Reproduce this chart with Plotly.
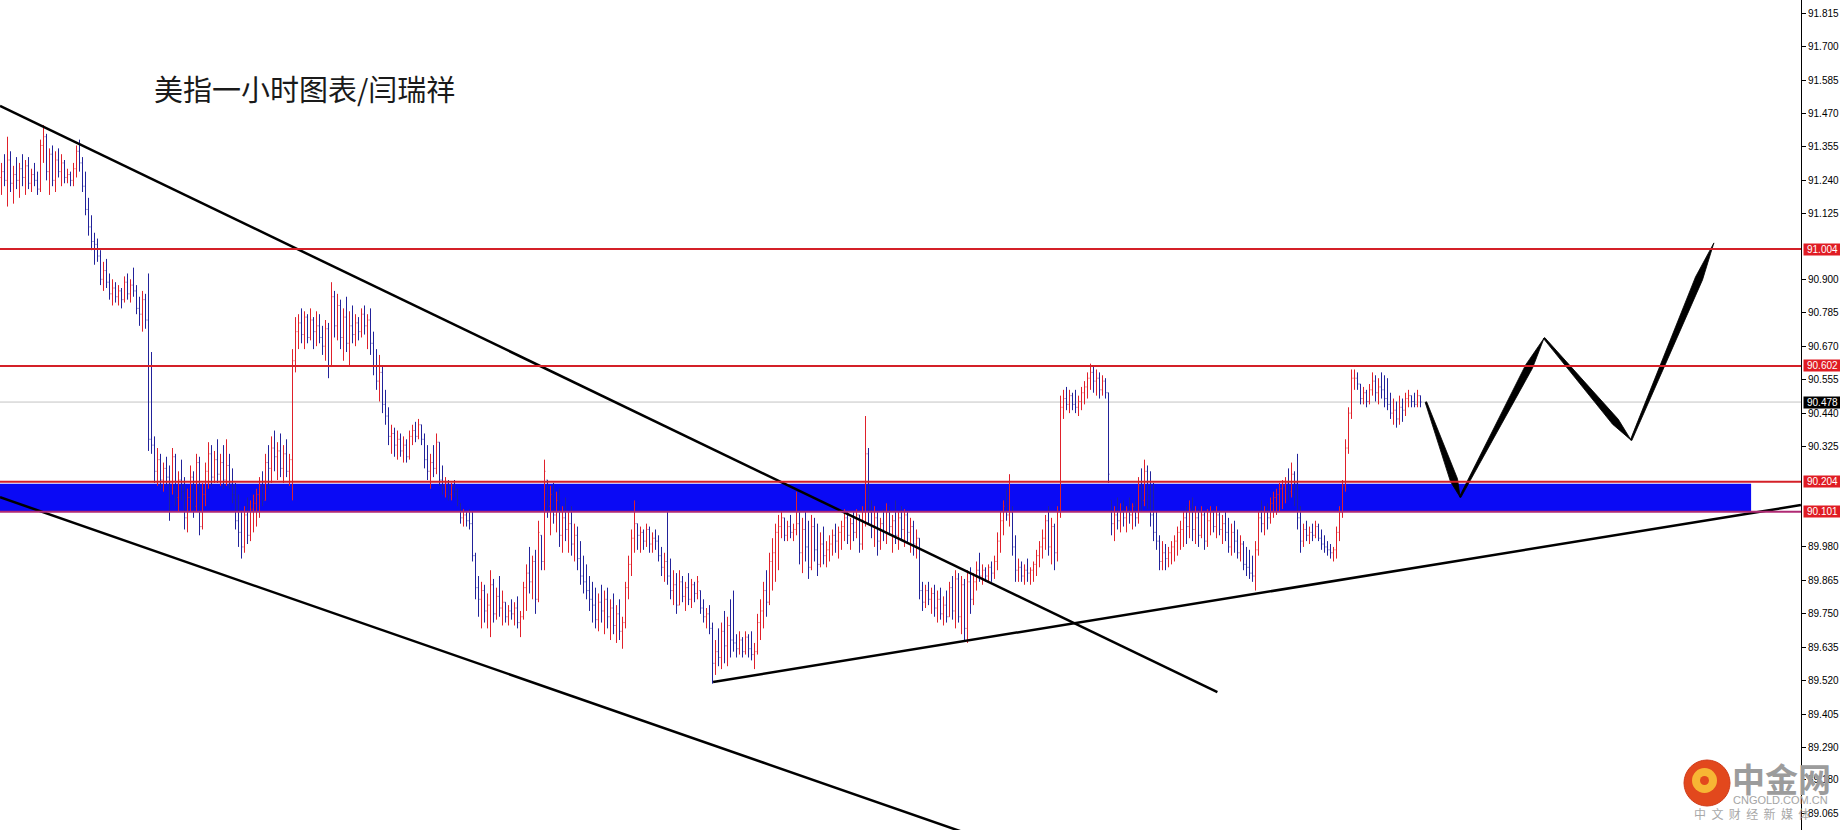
import plotly.graph_objects as go

# ---------------- data ----------------
highs = [
    91.30, 91.33, 91.39, 91.34, 91.29, 91.32, 91.30, 91.33, 91.31, 91.32,
    91.28, 91.30, 91.27, 91.38, 91.43, 91.40, 91.35, 91.36, 91.34, 91.35,
    91.33, 91.31, 91.28, 91.27, 91.30, 91.36, 91.38, 91.32, 91.27, 91.18,
    91.12, 91.06, 91.04, 91.00, 90.96, 90.97, 90.92, 90.90, 90.89, 90.88,
    90.87, 90.91, 90.92, 90.90, 90.94, 90.88, 90.84, 90.86, 90.85, 90.92,
    90.65, 90.36, 90.32, 90.30, 90.27, 90.29, 90.26, 90.32, 90.30, 90.24,
    90.28, 90.22, 90.18, 90.26, 90.24, 90.30, 90.29, 90.20, 90.27, 90.34,
    90.33, 90.31, 90.35, 90.30, 90.33, 90.35, 90.30, 90.25, 90.20, 90.16,
    90.10, 90.12, 90.15, 90.14, 90.16, 90.18, 90.22, 90.24, 90.30, 90.33,
    90.36, 90.38, 90.34, 90.37, 90.33, 90.35, 90.30, 90.66, 90.77, 90.78,
    90.80, 90.79, 90.78, 90.80, 90.77, 90.79, 90.78, 90.74, 90.76, 90.75,
    90.89, 90.86, 90.85, 90.83, 90.80, 90.84, 90.79, 90.81, 90.78, 90.77,
    90.80, 90.81, 90.78, 90.80, 90.72, 90.66, 90.64, 90.60, 90.52, 90.46,
    90.40, 90.39, 90.38, 90.37, 90.36, 90.35, 90.38, 90.40, 90.41, 90.42,
    90.40, 90.37, 90.33, 90.30, 90.33, 90.37, 90.34, 90.26, 90.22, 90.21,
    90.20, 90.21, 90.18, 90.13, 90.11, 90.10, 90.11, 90.10, 89.96, 89.88,
    89.86, 89.85, 89.82, 89.90, 89.87, 89.84, 89.88, 89.83, 89.79, 89.78,
    89.80, 89.79, 89.81, 89.76, 89.86, 89.92, 89.98, 89.95, 89.97, 90.07,
    90.02, 90.28, 90.21, 90.19, 90.20, 90.17, 90.18, 90.12, 90.15, 90.10,
    90.12, 90.06, 90.05, 90.00, 89.95, 89.92, 89.88, 89.86, 89.84, 89.82,
    89.85, 89.83, 89.84, 89.80, 89.82, 89.78, 89.80, 89.74, 89.86, 89.95,
    90.04, 90.14, 90.06, 90.05, 90.04, 90.06, 90.05, 90.03, 90.04, 90.02,
    89.98, 89.96, 90.10, 89.94, 89.90, 89.89, 89.90, 89.88, 89.86, 89.89,
    89.87, 89.86, 89.88, 89.83, 89.80, 89.77, 89.78, 89.72, 89.66, 89.70,
    89.72, 89.76, 89.74, 89.80, 89.83, 89.68, 89.69, 89.67, 89.69, 89.68,
    89.69, 89.65, 89.75, 89.80, 89.86, 89.90, 89.96, 90.01, 90.06, 90.09,
    90.10, 90.08, 90.07, 90.09, 90.06, 90.17, 90.10, 90.08, 90.10, 90.07,
    90.09, 90.08, 90.06, 90.03, 90.05, 90.00, 90.02, 90.04, 90.06, 90.05,
    90.07, 90.11, 90.10, 90.08, 90.10, 90.11, 90.09, 90.12, 90.43, 90.32,
    90.14, 90.12, 90.10, 90.08, 90.11, 90.13, 90.12, 90.09, 90.14, 90.10,
    90.12, 90.11, 90.10, 90.08, 90.07, 90.04, 90.01, 89.86, 89.85, 89.86,
    89.84, 89.85, 89.83, 89.84, 89.81, 89.83, 89.86, 89.88, 89.90, 89.89,
    89.88, 89.87, 89.90, 89.91, 89.89, 89.93, 89.96, 89.92, 89.91, 89.92,
    89.93, 89.95, 90.03, 90.10, 90.14, 90.18, 90.23, 90.12, 90.02, 89.94,
    89.93, 89.92, 89.94, 89.91, 89.93, 89.97, 90.00, 90.04, 90.09, 90.12,
    90.08, 90.06, 90.12, 90.50, 90.52, 90.53, 90.52, 90.51, 90.52, 90.50,
    90.53, 90.55, 90.58, 90.61, 90.60, 90.59, 90.58, 90.57, 90.56, 90.51,
    90.14, 90.12, 90.15, 90.13, 90.14, 90.12, 90.15, 90.13, 90.14, 90.22,
    90.25, 90.28, 90.26, 90.24, 90.20, 90.10, 90.02, 90.00, 89.99, 89.98,
    90.00, 90.02, 90.05, 90.07, 90.10, 90.12, 90.14, 90.15, 90.12, 90.11,
    90.12, 90.10, 90.11, 90.12, 90.11, 90.12, 90.10, 90.09, 90.10, 90.08,
    90.06, 90.07, 90.04, 90.02, 90.00, 89.98, 89.97, 89.95, 90.00, 90.10,
    90.14, 90.12, 90.13, 90.15, 90.17, 90.18, 90.20, 90.21, 90.22, 90.25,
    90.27, 90.24, 90.30, 90.12, 90.06, 90.07, 90.05, 90.06, 90.07, 90.06,
    90.04, 90.02, 90.00, 89.99, 89.98, 90.05, 90.12, 90.21, 90.35, 90.46,
    90.59, 90.59, 90.58, 90.54, 90.53, 90.52, 90.54, 90.58, 90.57, 90.56,
    90.58, 90.57, 90.56, 90.51, 90.49, 90.48, 90.50, 90.49, 90.51, 90.52,
    90.50, 90.51, 90.52, 90.50,
]
lows = [
    91.19, 91.22, 91.15, 91.20, 91.16, 91.21, 91.18, 91.22, 91.19, 91.21,
    91.20, 91.22, 91.19, 91.20, 91.30, 91.24, 91.19, 91.22, 91.20, 91.25,
    91.22, 91.23, 91.23, 91.22, 91.22, 91.25, 91.27, 91.20, 91.12, 91.05,
    91.00, 90.95, 90.96, 90.88, 90.86, 90.87, 90.83, 90.81, 90.82, 90.81,
    90.80, 90.82, 90.83, 90.82, 90.84, 90.78, 90.74, 90.72, 90.73, 90.31,
    90.30, 90.20, 90.19, 90.18, 90.17, 90.19, 90.07, 90.16, 90.12, 90.10,
    90.14, 90.04, 90.03, 90.10, 90.08, 90.10, 90.02, 90.04, 90.12, 90.18,
    90.19, 90.20, 90.20, 90.19, 90.18, 90.19, 90.18, 90.13, 90.04, 89.98,
    89.94, 89.96, 89.99, 90.00, 90.03, 90.05, 90.08, 90.12, 90.14, 90.18,
    90.20, 90.24, 90.21, 90.22, 90.20, 90.22, 90.19, 90.14, 90.58, 90.66,
    90.68, 90.66, 90.68, 90.69, 90.66, 90.67, 90.68, 90.64, 90.62, 90.56,
    90.60, 90.70, 90.69, 90.66, 90.62, 90.65, 90.60, 90.68, 90.67, 90.69,
    90.70, 90.71, 90.66, 90.64, 90.57, 90.52, 90.48, 90.44, 90.40, 90.33,
    90.30, 90.29, 90.28, 90.29, 90.27, 90.27, 90.28, 90.33, 90.34, 90.35,
    90.33, 90.25, 90.21, 90.18, 90.22, 90.23, 90.19, 90.16, 90.15, 90.14,
    90.14, 90.15, 90.12, 90.06, 90.05, 90.05, 90.04, 89.93, 89.80, 89.74,
    89.70, 89.72, 89.70, 89.67, 89.72, 89.73, 89.74, 89.71, 89.72, 89.71,
    89.73, 89.71, 89.70, 89.67, 89.73, 89.76, 89.82, 89.80, 89.75, 89.79,
    89.90, 89.90, 90.08, 90.02, 90.06, 90.03, 89.98, 89.96, 90.00, 89.96,
    89.95, 89.93, 89.90, 89.85, 89.82, 89.80, 89.76, 89.72, 89.70, 89.69,
    89.72, 89.68, 89.70, 89.66, 89.68, 89.65, 89.66, 89.63, 89.70, 89.80,
    89.88, 89.96, 89.97, 89.96, 89.97, 89.98, 89.96, 89.96, 89.97, 89.93,
    89.88, 89.86, 89.85, 89.80, 89.78, 89.75, 89.78, 89.79, 89.76, 89.78,
    89.77, 89.79, 89.80, 89.75, 89.72, 89.70, 89.68, 89.51, 89.54, 89.57,
    89.56, 89.58, 89.57, 89.60, 89.62, 89.60, 89.61, 89.60, 89.61, 89.60,
    89.59, 89.56, 89.61, 89.66, 89.70, 89.74, 89.78, 89.83, 89.86, 89.90,
    90.01, 90.00, 90.00, 90.01, 90.00, 90.02, 89.92, 89.89, 89.93, 89.87,
    89.90, 89.93, 89.88, 89.91, 89.92, 89.91, 89.93, 89.95, 89.96, 89.94,
    89.97, 90.00, 89.99, 89.97, 90.00, 90.01, 89.96, 89.97, 90.05, 90.06,
    90.01, 89.98, 89.95, 89.97, 90.00, 89.99, 90.02, 89.96, 89.99, 89.97,
    90.00, 89.98, 89.99, 89.96, 89.95, 89.94, 89.80, 89.76, 89.77, 89.78,
    89.75, 89.74, 89.72, 89.73, 89.71, 89.72, 89.74, 89.73, 89.70, 89.72,
    89.68, 89.66, 89.65, 89.75, 89.78, 89.83, 89.86, 89.85, 89.86, 89.86,
    89.86, 89.87, 89.90, 89.96, 90.02, 90.07, 90.05, 89.95, 89.86, 89.86,
    89.86, 89.85, 89.86, 89.85, 89.86, 89.88, 89.91, 89.94, 89.97, 89.95,
    89.92, 89.90, 89.93, 90.08, 90.42, 90.45, 90.44, 90.45, 90.44, 90.43,
    90.45, 90.47, 90.49, 90.52, 90.51, 90.50, 90.49, 90.50, 90.49, 90.20,
    90.02, 90.00, 90.04, 90.03, 90.05, 90.03, 90.06, 90.04, 90.05, 90.06,
    90.10, 90.12, 90.11, 90.05, 90.00, 89.97, 89.90, 89.90, 89.90, 89.91,
    89.92, 89.93, 89.95, 89.97, 89.98, 89.99, 90.01, 90.00, 89.99, 89.98,
    90.01, 89.97, 89.98, 90.02, 90.03, 90.01, 90.02, 89.99, 90.00, 89.96,
    89.95, 89.96, 89.94, 89.93, 89.90, 89.88, 89.87, 89.86, 89.83, 89.95,
    90.03, 90.02, 90.04, 90.06, 90.08, 90.09, 90.10, 90.11, 90.13, 90.14,
    90.15, 90.12, 90.04, 89.96, 89.98, 90.00, 89.99, 90.00, 90.01, 90.00,
    89.97, 89.96, 89.95, 89.94, 89.93, 89.94, 90.00, 90.08, 90.17, 90.30,
    90.42, 90.52, 90.52, 90.47, 90.47, 90.46, 90.47, 90.50, 90.48, 90.47,
    90.49, 90.46, 90.45, 90.42, 90.40, 90.39, 90.40, 90.41, 90.43, 90.46,
    90.46, 90.46, 90.46, 90.46,
]
closes = [
    91.27, 91.24, 91.31, 91.23, 91.26, 91.24, 91.28, 91.25, 91.29, 91.23,
    91.26, 91.24, 91.21, 91.36, 91.39, 91.27, 91.33, 91.24, 91.31, 91.27,
    91.30, 91.25, 91.26, 91.24, 91.28, 91.34, 91.30, 91.22, 91.14, 91.08,
    91.03, 91.02, 90.98, 90.90, 90.93, 90.89, 90.85, 90.87, 90.84, 90.86,
    90.83, 90.89, 90.85, 90.88, 90.86, 90.80, 90.78, 90.83, 90.76, 90.35,
    90.33, 90.24, 90.28, 90.21, 90.25, 90.22, 90.20, 90.29, 90.15, 90.21,
    90.17, 90.08, 90.15, 90.22, 90.12, 90.27, 90.05, 90.16, 90.24, 90.30,
    90.22, 90.28, 90.23, 90.27, 90.21, 90.26, 90.20, 90.16, 90.07, 90.03,
    89.98, 90.09, 90.02, 90.11, 90.13, 90.16, 90.19, 90.14, 90.27, 90.25,
    90.32, 90.29, 90.31, 90.25, 90.30, 90.24, 90.28, 90.62, 90.72, 90.75,
    90.71, 90.77, 90.70, 90.76, 90.72, 90.74, 90.70, 90.67, 90.73, 90.60,
    90.84, 90.74, 90.81, 90.70, 90.77, 90.68, 90.74, 90.71, 90.75, 90.72,
    90.78, 90.74, 90.76, 90.68, 90.60, 90.55, 90.58, 90.47, 90.43, 90.36,
    90.37, 90.33, 90.35, 90.31, 90.33, 90.29, 90.36, 90.38, 90.36, 90.40,
    90.35, 90.28, 90.24, 90.27, 90.25, 90.34, 90.21, 90.19, 90.20, 90.16,
    90.19, 90.17, 90.14, 90.08, 90.09, 90.07, 90.06, 89.95, 89.84, 89.80,
    89.83, 89.76, 89.78, 89.85, 89.75, 89.81, 89.77, 89.79, 89.74, 89.76,
    89.75, 89.77, 89.72, 89.74, 89.84, 89.89, 89.86, 89.93, 89.80, 90.03,
    89.93, 90.24, 90.12, 90.16, 90.09, 90.14, 90.02, 90.08, 90.04, 90.06,
    89.99, 90.02, 89.94, 89.88, 89.86, 89.83, 89.80, 89.78, 89.73, 89.79,
    89.76, 89.80, 89.74, 89.77, 89.71, 89.75, 89.69, 89.72, 89.84, 89.92,
    90.01, 90.06, 90.02, 90.03, 90.00, 90.04, 89.99, 90.01, 90.00, 89.95,
    89.91, 89.93, 89.88, 89.83, 89.85, 89.78, 89.86, 89.81, 89.84, 89.80,
    89.85, 89.82, 89.86, 89.77, 89.74, 89.75, 89.70, 89.58, 89.62, 89.60,
    89.69, 89.64, 89.71, 89.66, 89.65, 89.63, 89.66, 89.62, 89.67, 89.63,
    89.61, 89.62, 89.72, 89.76, 89.83, 89.79, 89.93, 89.96, 90.03, 90.05,
    90.08, 90.02, 90.05, 90.03, 90.04, 90.06, 89.96, 90.04, 89.98, 89.91,
    90.05, 89.97, 89.92, 89.99, 89.95, 89.97, 89.99, 90.02, 90.00, 90.03,
    90.05, 90.08, 90.02, 90.06, 90.03, 90.09, 89.99, 90.10, 90.30, 90.10,
    90.05, 90.08, 90.00, 90.06, 90.03, 90.10, 90.05, 90.07, 90.02, 90.08,
    90.04, 90.09, 90.03, 90.05, 89.99, 90.01, 89.83, 89.79, 89.83, 89.80,
    89.82, 89.77, 89.80, 89.75, 89.78, 89.74, 89.84, 89.76, 89.87, 89.74,
    89.85, 89.70, 89.86, 89.80, 89.86, 89.90, 89.88, 89.90, 89.88, 89.91,
    89.89, 89.93, 90.00, 90.07, 90.12, 90.09, 90.10, 89.98, 89.90, 89.91,
    89.88, 89.90, 89.89, 89.90, 89.92, 89.95, 89.98, 90.01, 90.07, 89.98,
    90.05, 89.96, 90.10, 90.46, 90.49, 90.47, 90.50, 90.47, 90.46, 90.48,
    90.51, 90.53, 90.56, 90.58, 90.55, 90.56, 90.52, 90.55, 90.51, 90.23,
    90.06, 90.09, 90.07, 90.10, 90.08, 90.11, 90.09, 90.12, 90.08, 90.19,
    90.14, 90.24, 90.16, 90.09, 90.03, 90.00, 89.93, 89.96, 89.94, 89.96,
    89.98, 90.00, 90.03, 90.04, 90.08, 90.05, 90.11, 90.04, 90.08, 90.02,
    90.09, 90.00, 90.07, 90.10, 90.05, 90.09, 90.04, 90.06, 90.03, 89.98,
    90.03, 90.00, 89.96, 89.99, 89.92, 89.91, 89.89, 89.88, 89.97, 90.08,
    90.06, 90.10, 90.08, 90.13, 90.15, 90.16, 90.18, 90.19, 90.20, 90.17,
    90.23, 90.20, 90.08, 90.00, 90.04, 90.02, 90.03, 90.02, 90.05, 90.01,
    89.99, 89.98, 89.97, 89.96, 89.97, 90.03, 90.10, 90.19, 90.32, 90.44,
    90.56, 90.56, 90.54, 90.49, 90.51, 90.48, 90.52, 90.55, 90.51, 90.53,
    90.52, 90.49, 90.47, 90.44, 90.45, 90.42, 90.46, 90.45, 90.49, 90.50,
    90.48, 90.47, 90.50, 90.478,
]
first_open = 91.25

# horizontal levels
red_levels = [91.004, 90.602, 90.204]
red_level_low = 90.101
last_price = 90.478
zone_low, zone_high = 90.103, 90.197
zone_end_bar = 583.2

# trend lines (bar index, price)
upper_trend_x = [-0.5, 405.3]
upper_trend_y = [91.496, 89.481]
lower_trend_x = [-0.5, 333.0]
lower_trend_y = [90.151, 88.955]
support_x = [237.2, 599.8]
support_y = [89.516, 90.124]

# forecast arrow path (bar index, price)
path_x = [474.8, 486.2, 514.2, 543.2, 570.8]
path_y = [90.478, 90.151, 90.698, 90.347, 91.025]

tick_vals = [91.815, 91.700, 91.585, 91.470, 91.355, 91.240, 91.125, 90.900,
             90.785, 90.670, 90.555, 90.440, 90.325, 89.980, 89.865, 89.750,
             89.635, 89.520, 89.405, 89.290, 89.180, 89.065]
tick_text = ["%.3f" % v for v in tick_vals]

title_text = "美指一小时图表/闫瑞祥"

# ---------------- figure ----------------
W, H = 1840, 830
ML, MR = 0, 39
Y_MIN, Y_MAX = 89.007, 91.860
X_MIN, X_MAX = -0.5, 599.8333
PX_X = (W - ML - MR) / (X_MAX - X_MIN)
PX_Y = H / (Y_MAX - Y_MIN)

RED_BAR = "#e0202a"
BLUE_BAR = "#22229a"
RED_LINE = "#d42028"

n = len(closes)
idx = list(range(n))
opens = []
for i in range(n):
    prev = first_open if i == 0 else closes[i - 1]
    opens.append(min(max(prev, lows[i]), highs[i]))

fig = go.Figure()

fig.add_trace(go.Ohlc(
    x=idx, open=opens, high=highs, low=lows, close=closes,
    increasing=dict(line=dict(color=RED_BAR, width=1)),
    decreasing=dict(line=dict(color=BLUE_BAR, width=1)),
    tickwidth=0.3, hoverinfo="skip", showlegend=False,
))

for tx, ty in [(upper_trend_x, upper_trend_y), (lower_trend_x, lower_trend_y),
               (support_x, support_y)]:
    fig.add_trace(go.Scatter(x=tx, y=ty, mode="lines",
                             line=dict(color="black", width=2.5),
                             hoverinfo="skip", showlegend=False))


def wedge(x0, y0, x1, y1, w0=0.8, w1=3.8, frac=0.82):
    X0, Y0, X1, Y1 = x0 * PX_X, y0 * PX_Y, x1 * PX_X, y1 * PX_Y
    dx, dy = X1 - X0, Y1 - Y0
    L = (dx * dx + dy * dy) ** 0.5
    ux, uy = dx / L, dy / L
    nx, ny = -uy, ux
    mx, my = X0 + ux * L * frac, Y0 + uy * L * frac
    pts = [(X0 + nx * w0, Y0 + ny * w0), (mx + nx * w1, my + ny * w1), (X1, Y1),
           (mx - nx * w1, my - ny * w1), (X0 - nx * w0, Y0 - ny * w0)]
    xs = [p[0] / PX_X for p in pts] + [pts[0][0] / PX_X]
    ys = [p[1] / PX_Y for p in pts] + [pts[0][1] / PX_Y]
    return xs, ys


for k in range(len(path_x) - 1):
    xs, ys = wedge(path_x[k], path_y[k], path_x[k + 1], path_y[k + 1])
    fig.add_trace(go.Scatter(x=xs, y=ys, mode="lines", fill="toself",
                             fillcolor="black", line=dict(color="black", width=0.8),
                             hoverinfo="skip", showlegend=False))

shapes = []
shapes.append(dict(type="rect", xref="x", yref="y", x0=X_MIN, x1=zone_end_bar,
                   y0=zone_low, y1=zone_high, fillcolor="#0a0af5",
                   line=dict(width=0), layer="below"))
shapes.append(dict(type="line", xref="paper", yref="y", x0=0, x1=1,
                   y0=last_price, y1=last_price,
                   line=dict(color="#c4c4c4", width=1), layer="below"))
for lv in red_levels:
    shapes.append(dict(type="line", xref="paper", yref="y", x0=0, x1=1,
                       y0=lv, y1=lv, line=dict(color=RED_LINE, width=2)))
shapes.append(dict(type="line", xref="paper", yref="y", x0=0, x1=1,
                   y0=red_level_low, y1=red_level_low,
                   line=dict(color="#b02a74", width=2)))


def px2paper_x(px):
    return (px - ML) / (W - ML - MR)


def px2paper_y(py):
    return 1 - py / H


shapes.append(dict(type="circle", xref="paper", yref="paper",
                   x0=px2paper_x(1684), x1=px2paper_x(1730),
                   y0=px2paper_y(806), y1=px2paper_y(760),
                   fillcolor="#e2481d", line=dict(color="#d03a18", width=1)))
shapes.append(dict(type="circle", xref="paper", yref="paper",
                   x0=px2paper_x(1692), x1=px2paper_x(1717),
                   y0=px2paper_y(793), y1=px2paper_y(768),
                   fillcolor="#f7b634", line=dict(width=0)))
shapes.append(dict(type="circle", xref="paper", yref="paper",
                   x0=px2paper_x(1700), x1=px2paper_x(1709),
                   y0=px2paper_y(785), y1=px2paper_y(776),
                   fillcolor="#e2481d", line=dict(width=0)))

annotations = []
annotations.append(dict(text=title_text, xref="paper", yref="paper",
                        x=px2paper_x(152), y=px2paper_y(88), xanchor="left",
                        yanchor="middle", showarrow=False,
                        font=dict(family="Noto Sans CJK SC", size=29, color="#1a1a1a")))

for lv, bg in [(91.004, "#e01c24"), (90.602, "#e01c24"), (90.204, "#e01c24"),
               (90.101, "#e01c24"), (last_price, "#000000")]:
    annotations.append(dict(text="%.3f" % lv, xref="paper", yref="y", x=1, y=lv,
                            xanchor="left", yanchor="middle", xshift=2,
                            showarrow=False, bgcolor=bg, borderpad=0,
                            width=37, height=11, align="center",
                            font=dict(family="Liberation Sans", size=10, color="white")))

annotations.append(dict(text="<b>中金网</b>", xref="paper", yref="paper",
                        x=px2paper_x(1781), y=px2paper_y(778), xanchor="center",
                        yanchor="middle", showarrow=False,
                        font=dict(family="Noto Sans CJK SC", size=33, color="#9c9c9c")))
annotations.append(dict(text="CNGOLD.COM.CN", xref="paper", yref="paper",
                        x=px2paper_x(1780), y=px2paper_y(800), xanchor="center",
                        yanchor="middle", showarrow=False,
                        font=dict(family="Liberation Sans", size=11, color="#a4a4a4")))
annotations.append(dict(text="中  文  财  经  新  媒  体", xref="paper", yref="paper",
                        x=px2paper_x(1752), y=px2paper_y(813), xanchor="center",
                        yanchor="middle", showarrow=False,
                        font=dict(family="Noto Sans CJK SC", size=12, color="#a8a8a8")))

fig.update_layout(
    width=W, height=H,
    margin=dict(l=ML, r=MR, t=0, b=0, pad=0),
    paper_bgcolor="white", plot_bgcolor="white",
    showlegend=False, hovermode=False,
    shapes=shapes, annotations=annotations,
    xaxis=dict(range=[X_MIN, X_MAX], visible=False, showgrid=False,
               zeroline=False, rangeslider=dict(visible=False)),
    yaxis=dict(range=[Y_MIN, Y_MAX], side="right", tickvals=tick_vals,
               ticktext=tick_text, ticks="outside", ticklen=4, tickcolor="black",
               showline=True, linecolor="black", linewidth=1, showgrid=False,
               zeroline=False,
               tickfont=dict(family="Liberation Sans", size=10, color="black")),
)

fig.write_html("out.html", config={"displayModeBar": False},
               post_script="document.body.style.margin='0';document.body.style.overflow='hidden';")
